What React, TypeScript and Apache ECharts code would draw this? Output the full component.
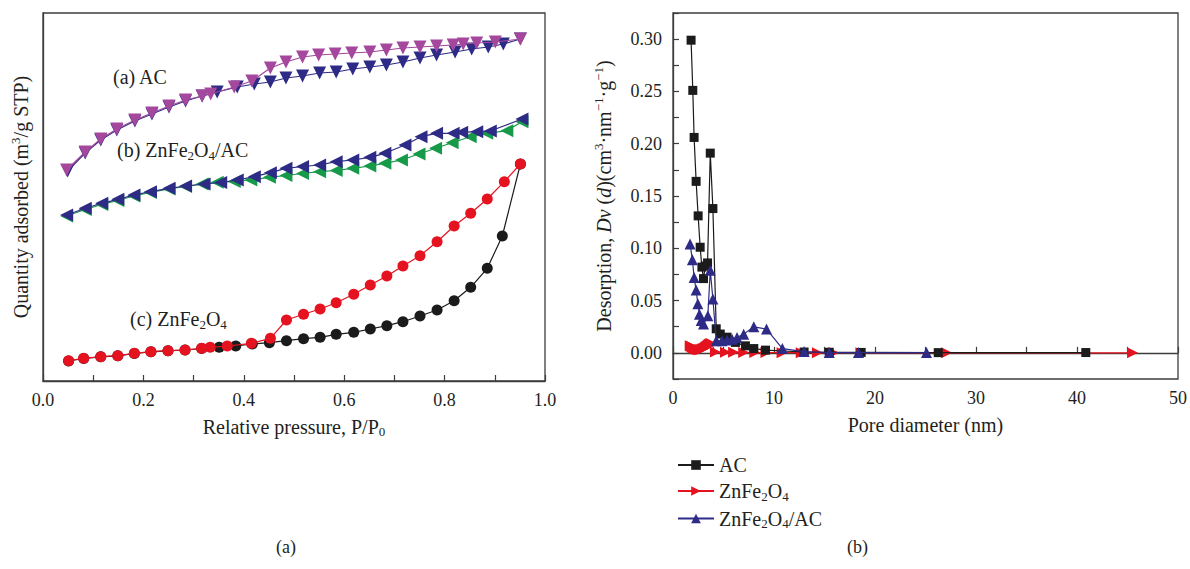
import React, { useEffect, useRef } from "react";
import * as echarts from "echarts";

// ---------- (a) N2 isotherms: [P/P0, quantity adsorbed (arb. units)] ----------
const acAdsorption: [number, number][] = [
  [0.047, 211], [0.084, 229], [0.115, 242], [0.147, 252], [0.183, 261], [0.217, 268],
  [0.251, 275], [0.284, 281], [0.317, 285], [0.334, 287], [0.381, 294], [0.416, 300],
  [0.453, 313], [0.484, 319], [0.517, 324], [0.549, 326], [0.582, 327], [0.615, 328],
  [0.651, 329], [0.684, 331], [0.717, 333], [0.751, 334], [0.784, 335], [0.817, 336],
  [0.837, 337], [0.864, 338], [0.901, 339], [0.951, 342],
];
const acDesorption: [number, number][] = [
  [0.951, 342], [0.917, 337], [0.887, 334], [0.854, 332], [0.821, 329], [0.784, 326],
  [0.751, 323], [0.717, 319], [0.684, 316], [0.651, 314], [0.617, 312], [0.584, 309],
  [0.551, 308], [0.517, 305], [0.484, 303], [0.453, 299], [0.421, 297], [0.387, 294],
  [0.347, 289], [0.317, 285], [0.284, 280], [0.251, 274], [0.217, 267], [0.183, 260],
  [0.147, 251], [0.115, 241], [0.084, 228], [0.049, 210],
];
const compositeAdsorption: [number, number][] = [
  [0.047, 165], [0.084, 171.5], [0.117, 176.5], [0.149, 180.5], [0.181, 185], [0.214, 188.5],
  [0.251, 192], [0.284, 194.5], [0.317, 197], [0.347, 198.7], [0.381, 199.5], [0.414, 201],
  [0.451, 203.7], [0.484, 205.5], [0.517, 207.5], [0.551, 209.3], [0.584, 210.5], [0.617, 212.7],
  [0.651, 215], [0.681, 217.7], [0.714, 221], [0.749, 227], [0.782, 232.7], [0.815, 238.3],
  [0.851, 244.3], [0.884, 247.7], [0.924, 250.3], [0.954, 259.3],
];
const compositeDesorption: [number, number][] = [
  [0.954, 262], [0.891, 250], [0.864, 249.3], [0.834, 248.7], [0.817, 247.7], [0.784, 247.7],
  [0.753, 244.3], [0.721, 236], [0.681, 227.7], [0.651, 223.7], [0.617, 221], [0.584, 219.3],
  [0.551, 216], [0.517, 214.5], [0.484, 212.7], [0.453, 208.3], [0.421, 204.3], [0.387, 201],
  [0.354, 198.5], [0.321, 197], [0.284, 195], [0.251, 192.7], [0.214, 189.3], [0.181, 186],
  [0.149, 181.7], [0.117, 177.7], [0.084, 172.7], [0.047, 166],
];
const ferriteAdsorption: [number, number][] = [
  [0.051, 20], [0.081, 22.5], [0.115, 24.2], [0.149, 25.2], [0.182, 27.5], [0.215, 29.2],
  [0.249, 30.2], [0.283, 31], [0.316, 32.5], [0.351, 33.7], [0.384, 35], [0.417, 37],
  [0.451, 38.3], [0.485, 40.3], [0.519, 42.3], [0.552, 43.7], [0.584, 46.7], [0.619, 48.7],
  [0.652, 52], [0.685, 55.3], [0.717, 59.3], [0.751, 65], [0.785, 71], [0.819, 80.3],
  [0.852, 93.7], [0.885, 112.7], [0.915, 145], [0.951, 217],
];
const ferriteDesorption: [number, number][] = [
  [0.951, 217], [0.919, 199.3], [0.885, 182], [0.852, 167.7], [0.819, 155], [0.785, 139.3],
  [0.751, 125.3], [0.717, 115], [0.685, 105], [0.652, 96], [0.619, 86.7], [0.584, 78.3],
  [0.552, 72], [0.519, 66.7], [0.485, 61], [0.453, 42.7], [0.415, 37.7], [0.367, 35],
  [0.333, 33.7], [0.316, 32.7], [0.283, 31], [0.249, 30.3], [0.215, 29.3], [0.182, 27.7],
  [0.149, 25.3], [0.115, 24.3], [0.081, 22.7], [0.051, 20.3],
];

// ---------- (b) BJH desorption pore size distribution: [pore diameter nm, Dv(d)] ----------
const psdAC: [number, number][] = [
  [1.79, 0.299], [1.96, 0.251], [2.09, 0.206], [2.29, 0.164], [2.49, 0.131], [2.69, 0.101],
  [2.86, 0.082], [3.02, 0.071], [3.19, 0.083], [3.42, 0.086], [3.69, 0.191], [3.95, 0.138],
  [4.28, 0.023], [4.68, 0.018], [5.35, 0.015], [6.18, 0.010], [7.17, 0.0067], [8.0, 0.0041],
  [9.16, 0.0026], [12.98, 0.0008], [15.47, 0.0006], [18.63, 0.0004], [26.26, 0.0002],
  [40.87, 0.0003],
];
const psdFerrite: [number, number][] = [
  [1.7, 0.0068], [1.8, 0.0062], [1.9, 0.0056], [2.0, 0.005], [2.1, 0.0045], [2.2, 0.004],
  [2.3, 0.0036], [2.4, 0.0033], [2.5, 0.0031], [2.6, 0.003], [2.7, 0.0031], [2.8, 0.0033],
  [2.9, 0.0036], [3.0, 0.004], [3.1, 0.0045], [3.2, 0.0051], [3.3, 0.0058], [3.4, 0.0066],
  [3.5, 0.0074], [3.6, 0.0082], [3.7, 0.0088], [3.8, 0.009], [4.2, 0.0008], [5.2, 0.0006],
  [6.0, 0.0005], [7.0, 0.0004], [8.1, 0.0003], [9.2, 0.0003], [10.8, 0.0002], [12.7, 0.0002],
  [14.3, 0.0001], [15.9, 0.0001], [18.6, 0.0001], [27.1, 0], [45.5, 0],
];
const psdComposite: [number, number][] = [
  [1.69, 0.104], [1.92, 0.089], [2.09, 0.072], [2.29, 0.06], [2.46, 0.047], [2.62, 0.037],
  [2.79, 0.031], [3.02, 0.0275], [3.45, 0.0355], [3.69, 0.079], [3.95, 0.0515], [4.28, 0.0115],
  [4.85, 0.0115], [5.35, 0.0122], [5.85, 0.0131], [6.34, 0.0147], [7.0, 0.0179], [8.0, 0.0249],
  [9.26, 0.0227], [10.83, 0.0041], [12.98, 0.0012], [15.47, 0.0003], [18.36, 0.0003],
  [25.1, 0.0003],
];

const pressureTicks = [0, 0.2, 0.4, 0.6, 0.8, 1.0];
const diameterTicks = [0, 10, 20, 30, 40, 50];
const dvTicks = [0, 0.05, 0.1, 0.15, 0.2, 0.25, 0.3];

const FONT = '"Liberation Serif", "DejaVu Serif", serif';
const INK = "#231f20";
const AXIS = "#3d3d3d";
const MAGENTA = "#a4479d";
const NAVY = "#2e2b86";
const GREEN = "#17994a";
const RED = "#e5121f";
const BLACK = "#1b1b1b";

const TICK_SIZE = 18;
const NAME_SIZE = 20;

const rich = {
  sub: { fontSize: 13, fontFamily: FONT, color: INK, padding: [10, 0, 0, 0] },
  sup: { fontSize: 13, fontFamily: FONT, color: INK, padding: [0, 0, 10, 0] },
  it: { fontSize: NAME_SIZE, fontFamily: FONT, color: INK, fontStyle: "italic" },
};

const near = (v: number, list: number[]) => list.some((t) => Math.abs(t - v) < 1e-6);

const legendNames: Record<string, string> = {
  AC: "AC",
  ZnFe2O4: "ZnFe{sub|2}O{sub|4}",
  "ZnFe2O4/AC": "ZnFe{sub|2}O{sub|4}/AC",
};

function lineSeries(
  name: string,
  axis: number,
  data: [number, number][],
  color: string,
  symbol: string,
  rotate: number,
  size: number,
  z: number
) {
  return {
    name,
    type: "line",
    xAxisIndex: axis,
    yAxisIndex: axis,
    data,
    symbol,
    symbolRotate: rotate,
    symbolSize: size,
    lineStyle: { color, width: 1.2 },
    itemStyle: { color },
    z,
  };
}

export default function App() {
  const ref = useRef<HTMLDivElement>(null);

  useEffect(() => {
    if (!ref.current) return;
    const chart = echarts.init(ref.current, undefined, { renderer: "svg" });
    const axisLine = { show: true, lineStyle: { color: AXIS, width: 1.3 } };
    const tickStyle = { fontFamily: FONT, fontSize: TICK_SIZE, color: INK };
    const nameStyle = { fontFamily: FONT, fontSize: NAME_SIZE, color: INK };
    const innerTicks = { show: true, inside: true, length: 6, lineStyle: { color: AXIS, width: 1.2 } };

    chart.setOption({
      animation: false,
      backgroundColor: "#ffffff",
      textStyle: { fontFamily: FONT },
      grid: [
        { left: 43, top: 13, width: 502, height: 368, show: true, borderColor: AXIS, borderWidth: 1.3 },
        { left: 673, top: 13, width: 505, height: 366, show: true, borderColor: AXIS, borderWidth: 1.3 },
      ],
      xAxis: [
        {
          type: "value",
          gridIndex: 0,
          min: 0,
          max: 1,
          interval: 0.1,
          axisLine,
          axisTick: innerTicks,
          axisLabel: {
            ...tickStyle,
            margin: 10,
            formatter: (v: number) => (near(v, pressureTicks) ? v.toFixed(1) : ""),
          },
          splitLine: { show: false },
          name: "Relative pressure, P/P{sub|0}",
          nameLocation: "middle",
          nameGap: 34,
          nameTextStyle: { ...nameStyle, rich },
        },
        {
          type: "value",
          gridIndex: 1,
          min: 0,
          max: 50,
          interval: 5,
          axisLine,
          axisTick: innerTicks,
          axisLabel: {
            ...tickStyle,
            margin: 10,
            formatter: (v: number) => (near(v, diameterTicks) ? String(Math.round(v)) : ""),
          },
          splitLine: { show: false },
          name: "Pore diameter (nm)",
          nameLocation: "middle",
          nameGap: 36,
          nameTextStyle: nameStyle,
        },
      ],
      yAxis: [
        {
          type: "value",
          gridIndex: 0,
          min: 0,
          max: 368,
          axisLine,
          axisTick: { show: false },
          axisLabel: { show: false },
          splitLine: { show: false },
          name: "Quantity adsorbed (m{sup|3}/g STP)",
          nameLocation: "middle",
          nameRotate: 90,
          nameGap: 11,
          nameTextStyle: { ...nameStyle, rich },
        },
        {
          type: "value",
          gridIndex: 1,
          min: -0.025,
          max: 0.325,
          interval: 0.025,
          axisLine,
          axisTick: innerTicks,
          axisLabel: {
            ...tickStyle,
            margin: 11,
            formatter: (v: number) => (near(v, dvTicks) ? v.toFixed(2) : ""),
          },
          splitLine: { show: false },
          name: "Desorption, {it|Dv} ({it|d})(cm{sup|3}·nm{sup|−1}·g{sup|−1})",
          nameLocation: "middle",
          nameRotate: 90,
          nameGap: 58,
          nameTextStyle: { ...nameStyle, rich },
        },
      ],
      legend: {
        data: ["AC", "ZnFe2O4", "ZnFe2O4/AC"],
        orient: "vertical",
        left: 672,
        top: 450,
        itemWidth: 36,
        itemHeight: 12,
        itemGap: 6,
        textStyle: { ...nameStyle, rich },
        formatter: (name: string) => legendNames[name] ?? name,
      },
      series: [
        lineSeries("AC desorption", 0, acDesorption, NAVY, "triangle", 180, 13, 2),
        lineSeries("AC adsorption", 0, acAdsorption, MAGENTA, "triangle", 180, 13, 3),
        lineSeries("ZnFe2O4/AC adsorption", 0, compositeAdsorption, GREEN, "triangle", 90, 13, 2),
        lineSeries("ZnFe2O4/AC desorption", 0, compositeDesorption, NAVY, "triangle", 90, 13, 3),
        lineSeries("ZnFe2O4 adsorption", 0, ferriteAdsorption, BLACK, "circle", 0, 11, 2),
        lineSeries("ZnFe2O4 desorption", 0, ferriteDesorption, RED, "circle", 0, 11, 3),
        lineSeries("ZnFe2O4", 1, psdFerrite, RED, "triangle", -90, 11, 2),
        lineSeries("AC", 1, psdAC, BLACK, "rect", 0, 9, 3),
        lineSeries("ZnFe2O4/AC", 1, psdComposite, NAVY, "triangle", 0, 11, 4),
      ],
      graphic: [
        { type: "text", left: 113, top: 67, style: { text: "(a) AC", font: `${NAME_SIZE}px ${FONT}`, fill: INK } },
        {
          type: "text",
          left: 117,
          top: 140,
          style: { text: "(b) ZnFe{sub|2}O{sub|4}/AC", font: `${NAME_SIZE}px ${FONT}`, fill: INK, rich },
        },
        {
          type: "text",
          left: 130,
          top: 309,
          style: { text: "(c) ZnFe{sub|2}O{sub|4}", font: `${NAME_SIZE}px ${FONT}`, fill: INK, rich },
        },
        { type: "text", left: 276, top: 538, style: { text: "(a)", font: `${TICK_SIZE}px ${FONT}`, fill: INK } },
        { type: "text", left: 847, top: 538, style: { text: "(b)", font: `${TICK_SIZE}px ${FONT}`, fill: INK } },
      ],
    });

    return () => chart.dispose();
  }, []);

  return (
    <div
      ref={ref}
      style={{ position: "absolute", left: 0, top: 0, width: 1190, height: 569, background: "#fff" }}
    />
  );
}
